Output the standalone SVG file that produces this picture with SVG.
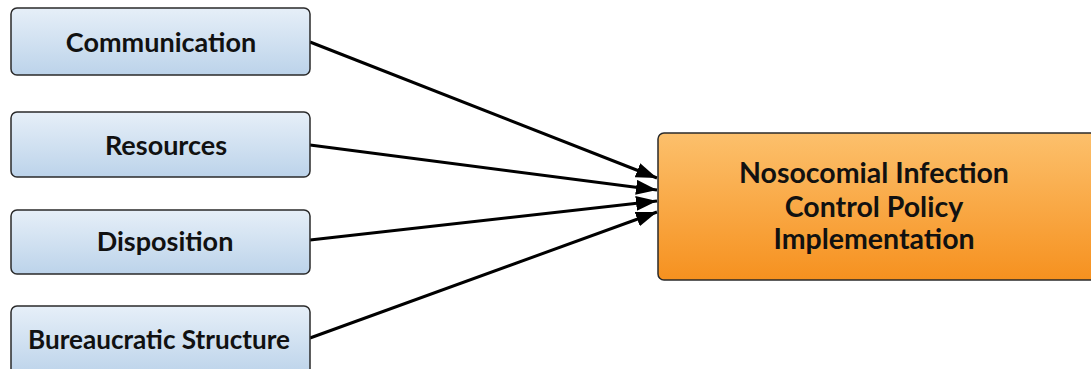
<svg xmlns="http://www.w3.org/2000/svg" width="1091" height="369" viewBox="0 0 1091 369">
<style>
.box{fill:url(#gb);stroke:#2a2a2a;stroke-width:1.5}
.main{fill:url(#go);stroke:#2a2a2a;stroke-width:1.5}
.t{font-family:Lato,"Open Sans",sans-serif;font-weight:bold;font-size:27px;fill:#111;text-anchor:middle}
.m{font-size:28.5px}
.c{stroke:#000;stroke-width:3;fill:none;marker-end:url(#ah)}
</style>
<defs>
<linearGradient id="gb" x1="0" y1="0" x2="0" y2="1"><stop offset="0" stop-color="#e6eff8"/><stop offset="1" stop-color="#bcd3ea"/></linearGradient>
<linearGradient id="go" x1="0" y1="0" x2="0" y2="1"><stop offset="0" stop-color="#fcc06c"/><stop offset="1" stop-color="#f6911f"/></linearGradient>
<marker id="ah" viewBox="0 0 10 10" refX="10" refY="5" markerWidth="21" markerHeight="15" orient="auto" markerUnits="userSpaceOnUse" preserveAspectRatio="none"><path d="M0,0L10,5L0,10z" fill="#000"/></marker>
</defs>
<g id="connectors">
<line class="c" x1="310" y1="42" x2="657" y2="178"/>
<line class="c" x1="310" y1="145" x2="657" y2="190"/>
<line class="c" x1="310" y1="240" x2="657" y2="201"/>
<line class="c" x1="310" y1="338" x2="657" y2="212"/>
</g>
<g id="n1"><rect class="box" x="11" y="8" width="299" height="67" rx="6"/><text class="t" x="161" y="52">Communication</text></g>
<g id="n2"><rect class="box" x="11" y="112" width="299" height="65" rx="6"/><text class="t" x="166" y="155">Resources</text></g>
<g id="n3"><rect class="box" x="11" y="210" width="299" height="64" rx="6"/><text class="t" x="165" y="251">Disposition</text></g>
<g id="n4"><rect class="box" x="11" y="306" width="299" height="70" rx="6"/><text class="t" x="159" y="349" textLength="262" lengthAdjust="spacingAndGlyphs">Bureaucratic Structure</text></g>
<g id="n5"><rect class="main" x="658" y="133" width="450" height="147" rx="6"/><text class="t m" x="874" y="183">Nosocomial Infection</text><text class="t m" x="874" y="217">Control Policy</text><text class="t m" x="874" y="249">Implementation</text></g>
</svg>
